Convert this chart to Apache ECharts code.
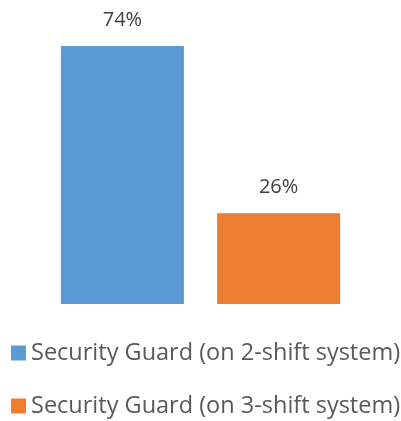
<!DOCTYPE html>
<html>
<head>
<meta charset="utf-8">
<script src="https://cdn.jsdelivr.net/npm/echarts@6/dist/echarts.min.js"></script>
<style>
  html, body { margin: 0; padding: 0; background: #fff; }
  #main { width: 401px; height: 421px; }
</style>
</head>
<body>
<div id="main"></div>
<script>
  // 数据
  var categories = [''];
  var seriesNames = ['Security Guard (on 2-shift system)', 'Security Guard (on 3-shift system)'];
  var twoShift = [74];
  var threeShift = [26];
  var colors = ['#5B9BD5', '#ED7D31'];

  var myChart = echarts.init(document.getElementById('main'));

  var labelStyle = {
    show: true,
    position: 'top',
    distance: 16,
    formatter: '{c}%',
    color: '#404040',
    fontSize: 20,
    fontFamily: 'Open Sans',
  };

  myChart.setOption({
    animation: false,
    color: colors,
    grid: {
      left: 0,
      right: 0,
      top: 25,
      bottom: 117,
    },
    legend: {
      orient: 'vertical',
      left: 11,
      top: 341,
      padding: 0,
      itemWidth: 15,
      itemHeight: 15,
      itemGap: 29,
      icon: 'rect',
      textStyle: {
        color: '#595959',
        fontSize: 23.5,
        lineHeight: 23,
        fontFamily: 'Open Sans',
      },
      data: seriesNames,
    },
    xAxis: {
      type: 'category',
      data: categories,
      show: false,
    },
    yAxis: {
      type: 'value',
      min: 0,
      max: 80,
      show: false,
    },
    series: [
      {
        name: seriesNames[0],
        type: 'bar',
        barWidth: 123,
        barGap: '27%',
        label: labelStyle,
        data: twoShift,
      },
      {
        name: seriesNames[1],
        type: 'bar',
        barWidth: 123,
        barGap: '27%',
        label: labelStyle,
        data: threeShift,
      },
    ],
  });
</script>
</body>
</html>
